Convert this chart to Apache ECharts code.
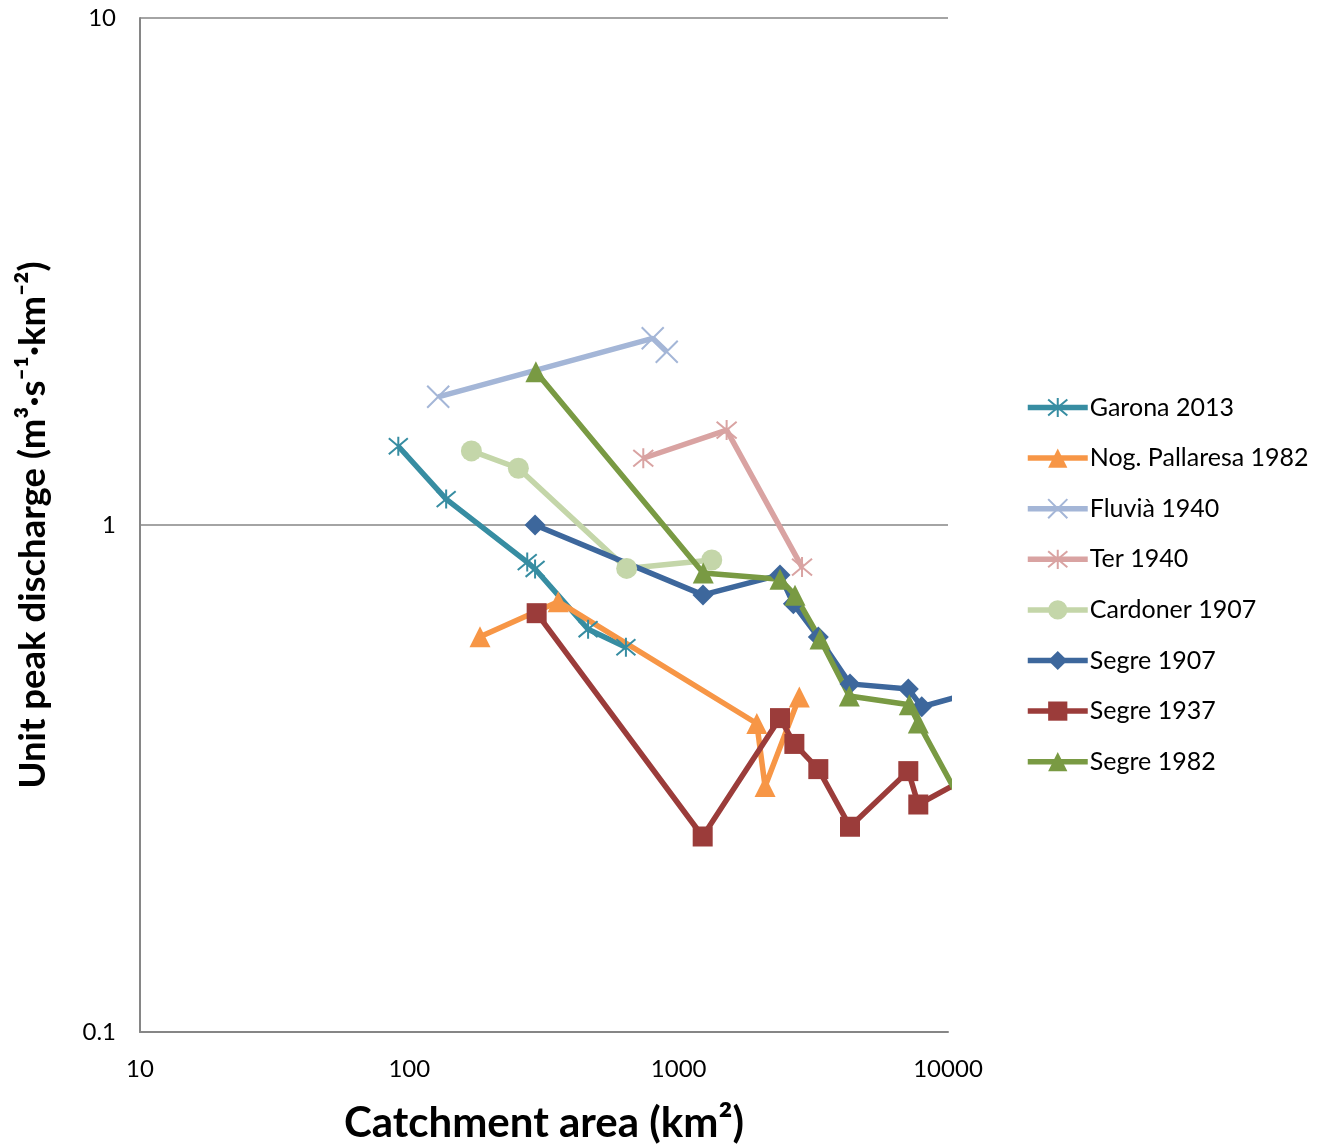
<!DOCTYPE html>
<html>
<head>
<meta charset="utf-8">
<script src="https://cdn.jsdelivr.net/npm/echarts@6/dist/echarts.min.js"></script>
<style>
  html, body { margin: 0; padding: 0; background: #fff; }
  #chart { width: 1317px; height: 1144px; }
</style>
</head>
<body>
<div id="chart"></div>
<script>
// catchment areas (km2) and unit peak discharge (m3 s-1 km-2)
const garonaArea = [91, 137, 274, 293, 461, 637];
const garonaQ = [1.43, 1.125, 0.845, 0.819, 0.623, 0.574];

const nogArea = [183, 357, 1950, 2093, 2805];
const nogQ = [0.602, 0.706, 0.406, 0.305, 0.458];

const fluviaArea = [128, 801, 903];
const fluviaQ = [1.79, 2.335, 2.197];

const terArea = [739, 1507, 2871];
const terQ = [1.354, 1.539, 0.826];

const cardonerArea = [170, 254, 641, 1327];
const cardonerQ = [1.40, 1.294, 0.821, 0.853];

const segre1907Area = [293, 1231, 2378, 2666, 3300, 4327, 7122, 7988, 12000];
const segre1907Q = [1.0, 0.728, 0.797, 0.699, 0.601, 0.486, 0.475, 0.438, 0.465];

const segre1937Area = [297, 1228, 2378, 2689, 3300, 4327, 7122, 7757, 12000];
const segre1937Q = [0.670, 0.243, 0.416, 0.370, 0.330, 0.254, 0.327, 0.281, 0.319];

const segre1982Area = [295, 1234, 2378, 2704, 3348, 4301, 7183, 7757, 12000];
const segre1982Q = [2.006, 0.804, 0.782, 0.727, 0.596, 0.460, 0.442, 0.407, 0.266];

const xTicks = [10, 100, 1000, 10000];
const yTicks = [0.1, 1, 10];

const pair = (xs, ys) => xs.map((x, i) => [x, ys[i]]);

const starPath = 'path://M0,0L10,10M10,0L0,10M5,-1L5,11';
const crossPath = 'path://M0,0L10,10M10,0L0,10';

function lineSeries(name, xs, ys, color, symbol, size, stroke) {
  return {
    name: name,
    type: 'line',
    data: pair(xs, ys),
    symbol: symbol,
    symbolSize: size,
    showAllSymbol: true,
    clip: true,
    lineStyle: { color: color, width: 5.5 },
    itemStyle: stroke
      ? { color: color, borderColor: color, borderWidth: 2 }
      : { color: color, borderWidth: 0 },
    emphasis: { disabled: true },
    animation: false
  };
}

const chart = echarts.init(document.getElementById('chart'));

const option = {
  backgroundColor: '#fff',
  textStyle: { fontFamily: 'Lato, sans-serif', color: '#000' },
  grid: { left: 140, right: 369, top: 18, bottom: 112, outerBoundsMode: 'none', containLabel: false },
  legend: {
    orient: 'vertical',
    left: 1025,
    top: 394,
    padding: 0,
    itemWidth: 60,
    itemHeight: 24,
    itemGap: 23.6,
    lineStyle: { width: 5.5 },
    textStyle: { fontSize: 25, color: '#000', lineHeight: 27, fontFamily: 'Lato, sans-serif', padding: [0, 0, 0, -3] },
    data: ['Garona 2013', 'Nog. Pallaresa 1982', 'Fluvià 1940', 'Ter 1940',
      'Cardoner 1907', 'Segre 1907', 'Segre 1937', 'Segre 1982']
  },
  xAxis: {
    type: 'log',
    logBase: 10,
    min: xTicks[0],
    max: xTicks[xTicks.length - 1],
    name: 'Catchment area (km²)',
    nameLocation: 'middle',
    nameGap: 70,
    nameTextStyle: { fontSize: 42, fontWeight: 'bold', color: '#000' },
    axisLine: { lineStyle: { color: '#868686', width: 2 } },
    axisTick: { show: false },
    splitLine: { show: false },
    minorTick: { show: false },
    axisLabel: { fontSize: 24, color: '#000', margin: 25, formatter: v => String(v) }
  },
  yAxis: {
    type: 'log',
    logBase: 10,
    min: yTicks[0],
    max: yTicks[yTicks.length - 1],
    name: 'Unit peak discharge (m³·s⁻¹·km⁻²)',
    nameLocation: 'middle',
    nameGap: 88,
    nameTextStyle: { fontSize: 36.5, fontWeight: 'bold', color: '#000' },
    axisLine: { show: true, lineStyle: { color: '#868686', width: 2 } },
    axisTick: { show: false },
    splitLine: { show: true, lineStyle: { color: '#868686', width: 1.5 } },
    axisLabel: {
      fontSize: 24, color: '#000', margin: 24,
      formatter: v => (v < 1 ? v.toFixed(1) : String(Math.round(v)))
    }
  },
  series: [
    lineSeries('Garona 2013', garonaArea, garonaQ, '#378DA2', starPath, 19, true),
    lineSeries('Nog. Pallaresa 1982', nogArea, nogQ, '#F79646', 'triangle', 21, false),
    lineSeries('Fluvià 1940', fluviaArea, fluviaQ, '#A4B6D7', crossPath, 22, true),
    lineSeries('Ter 1940', terArea, terQ, '#D9A3A2', starPath, 20, true),
    lineSeries('Cardoner 1907', cardonerArea, cardonerQ, '#C4D6A9', 'circle', 21, false),
    lineSeries('Segre 1907', segre1907Area, segre1907Q, '#3D679C', 'diamond', 21, false),
    lineSeries('Segre 1937', segre1937Area, segre1937Q, '#9B3C3A', 'rect', 20, false),
    lineSeries('Segre 1982', segre1982Area, segre1982Q, '#799A43', 'triangle', 21, false)
  ]
};

chart.setOption(option);
</script>
</body>
</html>
